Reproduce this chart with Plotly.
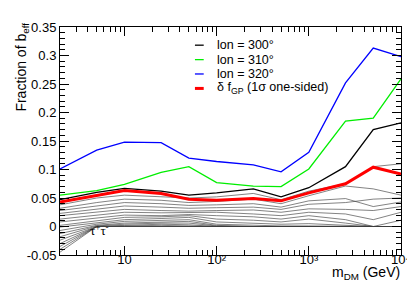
import plotly.graph_objects as go

# ---------------- data ----------------
mass = [2, 5, 10, 25, 50, 100, 250, 500, 1000, 2500, 5000, 10000]

lon300 = [0.047, 0.060, 0.067, 0.062, 0.055, 0.059, 0.066, 0.052, 0.068, 0.105, 0.170, 0.182]
lon310 = [0.055, 0.063, 0.074, 0.095, 0.105, 0.077, 0.071, 0.070, 0.101, 0.185, 0.190, 0.259]
lon320 = [0.101, 0.134, 0.148, 0.147, 0.120, 0.114, 0.108, 0.096, 0.130, 0.252, 0.313, 0.298]
delta_fgp = [0.043, 0.055, 0.063, 0.058, 0.048, 0.046, 0.049, 0.045, 0.059, 0.075, 0.104, 0.092]

gray_lines = [
    [0.038, 0.050, 0.055, 0.052, 0.050, 0.052, 0.058, 0.047, 0.062, 0.075, 0.105, 0.110],
    [0.032, 0.042, 0.048, 0.046, 0.042, 0.044, 0.048, 0.040, 0.054, 0.071, 0.066, 0.055],
    [0.028, 0.036, 0.042, 0.040, 0.037, 0.038, 0.040, 0.034, 0.045, 0.049, 0.035, 0.043],
    [0.023, 0.030, 0.036, 0.034, 0.032, 0.033, 0.034, 0.030, 0.039, 0.042, 0.048, 0.050],
    [0.019, 0.026, 0.030, 0.028, 0.027, 0.028, 0.029, 0.025, 0.031, 0.030, 0.028, 0.035],
    [0.013, 0.020, 0.025, 0.024, 0.024, 0.025, 0.022, 0.019, 0.025, 0.022, 0.012, 0.025],
    [0.008, 0.015, 0.020, 0.019, 0.021, 0.019, 0.017, 0.013, 0.019, 0.012, 0.000, 0.000],
    [0.002, 0.010, 0.016, 0.017, 0.019, 0.013, 0.011, 0.008, 0.013, 0.006, 0.000, 0.011],
    [-0.001, 0.007, 0.012, 0.014, 0.016, 0.008, 0.006, 0.004, 0.005, 0.002, 0.000, 0.000],
    [-0.007, 0.004, 0.009, 0.011, 0.012, 0.004, 0.002, 0.001, 0.001, 0.000, 0.000, 0.000],
    [-0.0125, 0.002, 0.006, 0.008, 0.009, 0.002, 0.000, 0.000, 0.000, 0.000, 0.000, 0.000],
    [-0.018, 0.001, 0.004, 0.006, 0.006, 0.001, 0.000, 0.000, 0.000, 0.000, 0.000, 0.000],
    [-0.024, 0.000, 0.002, 0.004, 0.003, 0.000, 0.000, 0.000, 0.000, 0.000, 0.000, 0.000],
    [-0.030, 0.000, 0.001, 0.002, 0.001, 0.000, 0.000, 0.000, 0.000, 0.000, 0.000, 0.000],
    [-0.035, 0.000, 0.000, 0.000, 0.000, 0.000, 0.000, 0.000, 0.000, 0.000, 0.000, 0.000],
    [-0.040, 0.000, 0.000, 0.000, 0.000, 0.000, 0.000, 0.000, 0.000, 0.000, 0.000, 0.000],
    [-0.045, 0.000, 0.000, 0.000, 0.000, 0.000, 0.000, 0.000, 0.000, 0.000, 0.000, 0.000],
]

y_tickvals = [-0.05, 0, 0.05, 0.1, 0.15, 0.2, 0.25, 0.3, 0.35]
y_ticktext = ["-0.05", "0", "0.05", "0.1", "0.15", "0.2", "0.25", "0.3", "0.35"]
x_tickvals = [10, 100, 1000, 10000]
x_ticktext = ["10", "10²", "10³", "10⁴"]

legend_names = ["lon = 300°", "lon = 310°", "lon = 320°", "δ f<sub>GP</sub> (1σ one-sided)"]
legend_colors = ["#000000", "#00ee00", "#0000ff", "#ff0000"]
legend_widths = [1.3, 1.3, 1.3, 3]

# ---------------- figure ----------------
W, H = 415, 284
L, R, T, B = 52, 13, 15, 37
PW, PH = W - L - R, H - T - B

def px(x):
    return (x - L) / PW

def py(y):
    return (H - B - y) / PH

fig = go.Figure()

for g in gray_lines:
    fig.add_trace(go.Scatter(x=mass, y=g, mode="lines",
                             line=dict(color="rgba(60,60,60,0.8)", width=0.8),
                             showlegend=False, hoverinfo="skip"))

series = [lon300, lon310, lon320, delta_fgp]
for s, c, w in zip(series, legend_colors, legend_widths):
    fig.add_trace(go.Scatter(x=mass, y=s, mode="lines",
                             line=dict(color=c, width=w),
                             showlegend=False))

# manual legend
rows = [33.5, 48.2, 62.8, 77.5]
for name, c, w, ry in zip(legend_names, legend_colors, legend_widths, rows):
    fig.add_shape(type="line", xref="paper", yref="paper",
                  x0=px(190.5), x1=px(199.5), y0=py(ry), y1=py(ry),
                  line=dict(color=c, width=w))
    fig.add_annotation(xref="paper", yref="paper", x=px(211), y=py(ry),
                       xanchor="left", yanchor="middle", text=name,
                       showarrow=False,
                       font=dict(family="Liberation Sans", size=12.5, color="black"))

# tau label
fig.add_annotation(xref="paper", yref="paper", x=px(93), y=py(222),
                   xanchor="center", yanchor="middle",
                   text="τ<sup>+</sup>τ<sup>-</sup>", showarrow=False,
                   font=dict(family="Liberation Serif", size=13, color="black"))

# axis titles
fig.add_annotation(xref="paper", yref="paper", x=px(13), y=py(9),
                   xanchor="center", yanchor="top", textangle=-90,
                   text="Fraction of b<sub>eff</sub>", showarrow=False,
                   font=dict(family="Liberation Sans", size=14, color="black"))
fig.add_annotation(xref="paper", yref="paper", x=px(403), y=py(265),
                   xanchor="right", yanchor="middle",
                   text="m<sub>DM</sub> (GeV)", showarrow=False,
                   font=dict(family="Liberation Sans", size=14, color="black"))

minor_x = [m * 10 ** e for e in range(0, 4) for m in range(2, 10) if m * 10 ** e <= 10000]

fig.update_xaxes(type="log", range=[0.30103, 4], showgrid=False, zeroline=False,
                 showline=True, linecolor="black", linewidth=1, mirror="ticks",
                 ticks="inside", ticklen=9, tickcolor="black", tickwidth=1,
                 tickmode="array", tickvals=x_tickvals, ticktext=x_ticktext,
                 ticklabelstandoff=-8,
                 minor=dict(ticks="inside", ticklen=5, tickcolor="black",
                            tickmode="array", tickvals=minor_x, showgrid=False),
                 tickfont=dict(family="Liberation Sans", size=13, color="black"))
fig.update_yaxes(range=[-0.05, 0.35], showgrid=False, zeroline=False,
                 showline=True, linecolor="black", linewidth=1, mirror="ticks",
                 ticks="inside", ticklen=9, tickcolor="black", tickwidth=1,
                 tickmode="array", tickvals=y_tickvals, ticktext=y_ticktext,
                 minor=dict(ticks="inside", ticklen=5, tickcolor="black",
                            dtick=0.01, tick0=0, showgrid=False),
                 tickfont=dict(family="Liberation Sans", size=13, color="black"))

fig.update_layout(width=W, height=H, margin=dict(l=L, r=R, t=T, b=B),
                  plot_bgcolor="white", paper_bgcolor="white",
                  showlegend=False)

fig.write_html("out.html")
